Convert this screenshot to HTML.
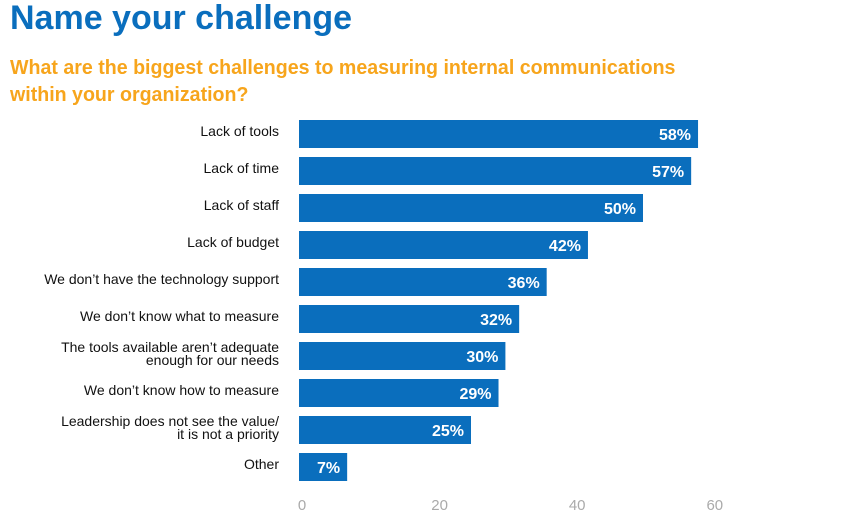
<!DOCTYPE html>
<html><head><meta charset="utf-8"><style>
body{margin:0;width:861px;height:516px;background:#fff;overflow:hidden;font-family:"Liberation Sans",sans-serif;}
#title{position:absolute;left:10px;top:-1px;font-size:34px;font-weight:bold;color:#0a6ebd;white-space:nowrap}
#sub{position:absolute;left:10px;top:55px;font-size:20px;font-weight:bold;color:#f7a51c;line-height:27px;transform:scaleX(0.98);transform-origin:left;white-space:nowrap}
</style></head><body>
<div id="title">Name your challenge</div>
<div id="sub">What are the biggest challenges to measuring internal communications<br>within your organization?</div>
<svg id="chart" width="861" height="516" style="position:absolute;left:0;top:0"></svg>
<script>
const categories=[["Lack of tools"],["Lack of time"],["Lack of staff"],["Lack of budget"],["We don’t have the technology support"],["We don’t know what to measure"],["The tools available aren’t adequate","enough for our needs"],["We don’t know how to measure"],["Leadership does not see the value/","it is not a priority"],["Other"]];
const values=[58,57,50,42,36,32,30,29,25,7];
const ticks=[0,20,40,60];
const NS="http://www.w3.org/2000/svg";
const svg=document.getElementById('chart');
const x=v=>299+v*6.88;
const y=i=>120+i*37;
const bh=28;
function mk(t,a){const e=document.createElementNS(NS,t);for(const k in a)e.setAttribute(k,a[k]);svg.appendChild(e);return e;}
values.forEach((v,i)=>{
 const r=mk('rect',{x:x(0),y:y(i),width:x(v)-x(0),height:bh,fill:'#0a6ebd'});
 
 
 const t=mk('text',{x:x(v)-7,y:y(i)+20,'text-anchor':'end',fill:'#fff','font-size':'16','font-weight':'bold','font-family':'Liberation Sans, sans-serif'});
 t.textContent=v+'%';
 
 
 const lines=categories[i];
 const l=mk('text',{x:279,'text-anchor':'end',fill:'#111','font-size':'14','font-family':'Liberation Sans, sans-serif'});
 
 
 lines.forEach((s,j)=>{const ts=document.createElementNS(NS,'tspan');ts.setAttribute('x',279);ts.setAttribute('y',lines.length==1?y(i)+16:y(i)+10+j*13);ts.textContent=s;l.appendChild(ts);});
});
ticks.forEach(v=>{
 const t=mk('text',{x:x(v)+3,y:510,'text-anchor':'middle',fill:'#aaa','font-size':'15','font-family':'Liberation Sans, sans-serif'});
 t.textContent=v;
 
 
});
</script>
</body></html>
